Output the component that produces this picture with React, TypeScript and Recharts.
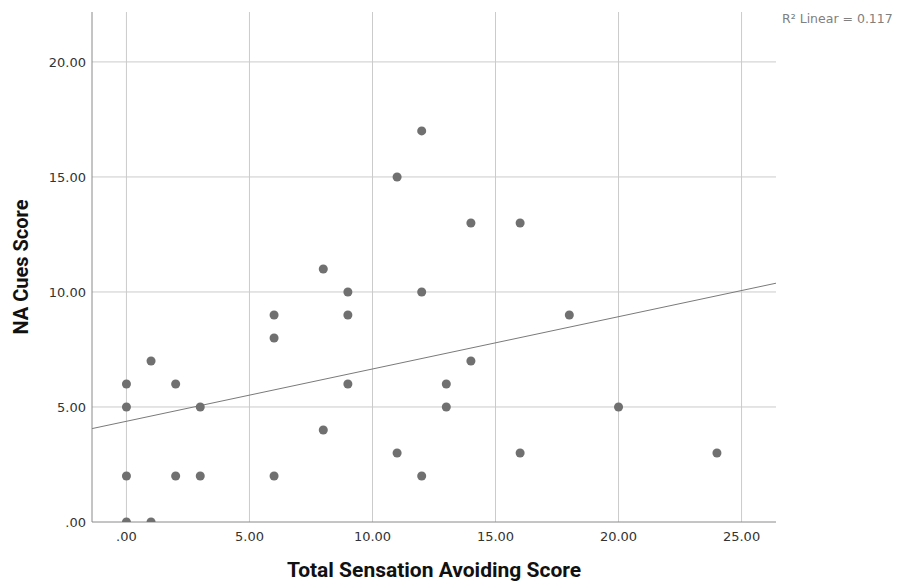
import React from 'react';
import {
  ScatterChart,
  Scatter,
  XAxis,
  YAxis,
  ZAxis,
  ReferenceLine,
  Label,
} from 'recharts';

// Total Sensation Avoiding Score vs NA Cues Score (one entry per respondent)
const avoidingScores = [0, 1, 0, 0, 0, 1, 2, 2, 3, 3, 6, 6, 6, 8, 8, 9, 9, 9, 11, 11, 12, 12, 12, 13, 13, 14, 14, 16, 16, 18, 20, 24];
const naCuesScores = [0, 0, 2, 5, 6, 7, 6, 2, 5, 2, 2, 8, 9, 11, 4, 10, 9, 6, 15, 3, 17, 10, 2, 6, 5, 13, 7, 13, 3, 9, 5, 3];

const xTicks = [0, 5, 10, 15, 20, 25];
const yTicks = [0, 5, 10, 15, 20];
const xDomain = [-1.4, 26.4];
const yDomain = [0, 22.17];

// fit line (ends at the plot edges)
const fitLine = [
  { x: -1.4, y: 4.06 },
  { x: 26.4, y: 10.38 },
];
const r2Text = 'R\u00B2 Linear = 0.117';

const points = avoidingScores.map((x, i) => ({ x, y: naCuesScores[i] }));

const fmt = (v: number) => (v === 0 ? '.00' : v.toFixed(2));

const TICK_FONT = '"DejaVu Sans", sans-serif';
const TITLE_FONT = 'Roboto, "DejaVu Sans", sans-serif';
const GRID = '#cbcbcb';

export default function App() {
  return (
    <div style={{ position: 'absolute', left: 0, top: 0, width: 899, height: 581, background: '#fff' }}>
      <ScatterChart width={899} height={581} margin={{ top: 12, right: 123, bottom: 0, left: 0 }}>
        {/* grid only at tick values, no border on top / right */}
        {xTicks.map((t) => (
          <ReferenceLine key={`gx${t}`} x={t} stroke={GRID} strokeWidth={1} />
        ))}
        {yTicks.filter((t) => t > 0).map((t) => (
          <ReferenceLine key={`gy${t}`} y={t} stroke={GRID} strokeWidth={1} />
        ))}
        <XAxis
          type="number"
          dataKey="x"
          domain={xDomain}
          ticks={xTicks}
          allowDataOverflow
          height={59}
          tickLine={false}
          tickMargin={4}
          tickFormatter={fmt}
          axisLine={{ stroke: '#8a8a8a' }}
          tick={{ fill: '#333', fontSize: 13, fontFamily: TICK_FONT }}
        >
          <Label
            value="Total Sensation Avoiding Score"
            position="insideBottom"
            offset={4}
            style={{ fill: '#111', fontSize: 21, fontWeight: 700, fontFamily: TITLE_FONT }}
          />
        </XAxis>
        <YAxis
          type="number"
          dataKey="y"
          domain={yDomain}
          ticks={yTicks}
          allowDataOverflow
          width={92}
          tickLine={false}
          tickMargin={0}
          tickFormatter={fmt}
          axisLine={{ stroke: '#8a8a8a' }}
          tick={{ fill: '#333', fontSize: 13, fontFamily: TICK_FONT }}
        >
          <Label
            value="NA Cues Score"
            angle={-90}
            position="insideLeft"
            offset={21}
            style={{ fill: '#111', fontSize: 20, fontWeight: 700, fontFamily: TITLE_FONT, textAnchor: 'middle' }}
          />
        </YAxis>
        <ZAxis range={[62, 62]} />
        <ReferenceLine segment={fitLine} stroke="#7a7a7a" strokeWidth={1} ifOverflow="visible" />
        <Scatter data={points} fill="#707070" isAnimationActive={false} />
      </ScatterChart>
      <div
        style={{
          position: 'absolute',
          left: 782,
          top: 11,
          fontFamily: TICK_FONT,
          fontSize: 12.5,
          color: '#808080',
          whiteSpace: 'nowrap',
        }}
      >
        {r2Text}
      </div>
    </div>
  );
}
